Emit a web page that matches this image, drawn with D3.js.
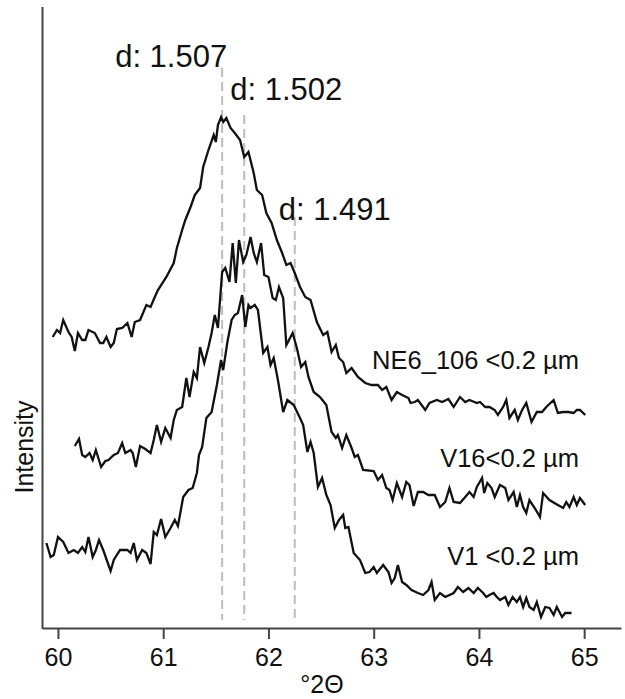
<!DOCTYPE html>
<html lang="en">

<head>
    <meta charset="UTF-8">
    <title>XRD 060 region</title>
    <script src="https://d3js.org/d3.v7.min.js"></script>
    <style>
        body { margin: 0; background: white; }
        text { font-family: "Liberation Sans", Arial, sans-serif; fill: #111; }
        .axis path, .axis line { stroke: #444; stroke-width: 2; }
    </style>
</head>

<body>
    <svg width="625" height="699"></svg>

    <script>
        // readings from the figure: [°2θ, intensity (arb. units, offset for stacking)]
        const ne6 = [
            [59.95, 291], [59.99, 298], [60.02, 295], [60.05, 308], [60.10, 296], [60.13, 291], [60.16, 277],
            [60.19, 295], [60.23, 288], [60.26, 288], [60.29, 298], [60.35, 295], [60.40, 285], [60.43, 285],
            [60.46, 291], [60.50, 281], [60.53, 285], [60.56, 299], [60.61, 300], [60.66, 305], [60.70, 291],
            [60.73, 306], [60.78, 308], [60.84, 323], [60.88, 321], [60.92, 331], [60.95, 338], [61.03, 351],
            [61.10, 365], [61.13, 380], [61.18, 398], [61.21, 408], [61.26, 421], [61.30, 433], [61.35, 440],
            [61.38, 461], [61.43, 478], [61.48, 493], [61.50, 486], [61.52, 503], [61.55, 511], [61.57, 506],
            [61.60, 510], [61.64, 500], [61.68, 495], [61.73, 488], [61.77, 471], [61.81, 476], [61.86, 455],
            [61.89, 438], [61.94, 433], [61.98, 415], [62.03, 405], [62.08, 388], [62.13, 375], [62.17, 363],
            [62.21, 365], [62.25, 355], [62.30, 341], [62.35, 331], [62.40, 328], [62.46, 306], [62.52, 293],
            [62.56, 296], [62.60, 276], [62.64, 283], [62.67, 270], [62.71, 266], [62.74, 255], [62.79, 260],
            [62.85, 251], [62.92, 245], [62.98, 243], [63.04, 243], [63.08, 238], [63.12, 241], [63.17, 228],
            [63.22, 236], [63.27, 233], [63.33, 230], [63.35, 225], [63.39, 226], [63.42, 228], [63.49, 218],
            [63.53, 225], [63.60, 228], [63.65, 226], [63.71, 229], [63.76, 221], [63.82, 231], [63.87, 226],
            [63.91, 228], [63.98, 225], [64.01, 226], [64.06, 221], [64.10, 221], [64.15, 218], [64.18, 213],
            [64.23, 221], [64.26, 228], [64.29, 210], [64.34, 218], [64.37, 208], [64.41, 218], [64.45, 225],
            [64.50, 206], [64.55, 216], [64.60, 216], [64.64, 221], [64.71, 228], [64.75, 215], [64.80, 216],
            [64.85, 216], [64.90, 215], [64.93, 218], [64.96, 218], [65.01, 213]
        ];

        const v16 = [
            [60.16, 182], [60.20, 189], [60.23, 173], [60.26, 171], [60.30, 175], [60.33, 168], [60.36, 178],
            [60.41, 161], [60.45, 167], [60.48, 168], [60.53, 173], [60.57, 175], [60.61, 185], [60.64, 175],
            [60.69, 178], [60.71, 175], [60.74, 161], [60.78, 182], [60.83, 179], [60.88, 175], [60.91, 188],
            [60.94, 203], [60.98, 186], [61.02, 200], [61.07, 190], [61.10, 208], [61.13, 218], [61.18, 221],
            [61.22, 250], [61.25, 231], [61.29, 256], [61.32, 250], [61.35, 281], [61.39, 265], [61.43, 281],
            [61.46, 295], [61.49, 313], [61.52, 300], [61.56, 356], [61.59, 360], [61.63, 346], [61.66, 385],
            [61.69, 345], [61.72, 388], [61.76, 366], [61.79, 373], [61.83, 391], [61.86, 375], [61.89, 366],
            [61.93, 385], [61.96, 353], [62.00, 351], [62.04, 330], [62.07, 328], [62.10, 341], [62.14, 330],
            [62.17, 283], [62.23, 295], [62.27, 280], [62.31, 261], [62.35, 266], [62.38, 251], [62.43, 236],
            [62.49, 231], [62.55, 223], [62.60, 196], [62.64, 190], [62.66, 193], [62.70, 180], [62.74, 193],
            [62.79, 180], [62.82, 171], [62.85, 173], [62.90, 158], [63.00, 157], [63.04, 148], [63.08, 153],
            [63.12, 140], [63.15, 138], [63.18, 128], [63.22, 145], [63.27, 131], [63.31, 146], [63.34, 143],
            [63.38, 122], [63.42, 136], [63.47, 136], [63.52, 133], [63.58, 133], [63.63, 121], [63.68, 126],
            [63.72, 140], [63.76, 126], [63.82, 125], [63.87, 131], [63.91, 136], [63.95, 131], [63.98, 141],
            [64.03, 150], [64.05, 135], [64.08, 145], [64.12, 140], [64.15, 131], [64.20, 143], [64.25, 140],
            [64.28, 128], [64.33, 136], [64.36, 121], [64.39, 133], [64.42, 121], [64.45, 115], [64.48, 128],
            [64.53, 120], [64.58, 111], [64.61, 135], [64.67, 128], [64.75, 123], [64.80, 120], [64.83, 126],
            [64.86, 121], [64.90, 131], [64.93, 123], [64.96, 130], [65.01, 123]
        ];

        const v1 = [
            [59.89, 85], [59.93, 71], [59.96, 73], [60.00, 91], [60.05, 86], [60.10, 75], [60.15, 78],
            [60.19, 75], [60.23, 81], [60.26, 76], [60.29, 91], [60.33, 71], [60.36, 78], [60.39, 88],
            [60.43, 78], [60.50, 57], [60.53, 68], [60.59, 78], [60.66, 78], [60.69, 75], [60.72, 85],
            [60.75, 68], [60.80, 78], [60.84, 75], [60.88, 64], [60.91, 96], [60.94, 93], [60.98, 109],
            [61.02, 91], [61.07, 100], [61.11, 108], [61.14, 102], [61.19, 131], [61.24, 138], [61.28, 140],
            [61.32, 155], [61.34, 173], [61.37, 181], [61.41, 210], [61.46, 216], [61.51, 243], [61.55, 268],
            [61.57, 258], [61.61, 286], [61.65, 308], [61.68, 313], [61.71, 315], [61.75, 333], [61.78, 301],
            [61.81, 323], [61.83, 320], [61.87, 323], [61.90, 318], [61.95, 275], [61.99, 281], [62.02, 263],
            [62.05, 270], [62.09, 248], [62.14, 216], [62.18, 228], [62.24, 223], [62.30, 210], [62.33, 203],
            [62.37, 176], [62.40, 186], [62.43, 175], [62.47, 141], [62.51, 150], [62.55, 133], [62.59, 123],
            [62.63, 100], [62.67, 108], [62.71, 113], [62.73, 100], [62.76, 101], [62.81, 75], [62.87, 68],
            [62.92, 55], [62.96, 56], [63.00, 61], [63.03, 55], [63.09, 63], [63.14, 56], [63.17, 45],
            [63.20, 50], [63.23, 63], [63.27, 46], [63.31, 43], [63.36, 38], [63.42, 35], [63.47, 33],
            [63.52, 38], [63.55, 46], [63.58, 28], [63.63, 35], [63.68, 31], [63.76, 35], [63.80, 41],
            [63.85, 36], [63.90, 40], [63.95, 35], [63.99, 40], [64.04, 35], [64.07, 31], [64.10, 33],
            [64.14, 35], [64.17, 31], [64.20, 28], [64.25, 31], [64.28, 23], [64.32, 31], [64.36, 26],
            [64.39, 31], [64.42, 21], [64.45, 30], [64.48, 21], [64.52, 18], [64.55, 26], [64.59, 11],
            [64.63, 21], [64.67, 20], [64.71, 13], [64.74, 21], [64.79, 11], [64.82, 15], [64.88, 15]
        ];

        const seriesNames = ["NE6_106 <0.2 \u00b5m", "V16<0.2 \u00b5m", "V1 <0.2 \u00b5m"];
        const seriesLabelY = [259, 161, 63]; // intensity level of each label baseline

        const peakPos = [61.56, 61.77, 62.25];
        const peakTop = [560, 513, 411];
        const peakLabels = ["d: 1.507", "d: 1.502", "d: 1.491"];

        const xTicks = [60, 61, 62, 63, 64, 65];

        const width = 625;
        const height = 699;
        const margin = { top: 7, right: 4, bottom: 71, left: 42.5 };

        const svg = d3.select("svg");

        const x = d3.scaleLinear()
            .domain([59.853, 65.35])
            .range([margin.left, width - margin.right]);

        const y = d3.scaleLinear()
            .domain([0, 621])
            .range([height - margin.bottom, margin.top]);

        // dashed reference lines at the peak positions
        svg.selectAll(".peak")
            .data(peakPos)
            .enter().append("line")
            .attr("class", "peak")
            .attr("x1", d => x(d)).attr("x2", d => x(d))
            .attr("y1", (d, i) => y(peakTop[i]))
            .attr("y2", y(8))
            .attr("stroke", "#bdbdbd")
            .attr("stroke-width", 2)
            .attr("stroke-dasharray", "9,5");

        // label offsets (px) relative to the top of each dashed line
        const peakLabelOffset = [[-107, -1], [-14, -15], [-16, 3]];
        svg.selectAll(".peak-label")
            .data(peakLabels)
            .enter().append("text")
            .attr("class", "peak-label")
            .attr("x", (d, i) => x(peakPos[i]) + peakLabelOffset[i][0])
            .attr("y", (d, i) => y(peakTop[i]) + peakLabelOffset[i][1])
            .style("font-size", "31px")
            .text(d => d);

        const line = d3.line()
            .x(d => x(d[0]))
            .y(d => y(d[1]));

        svg.selectAll(".trace")
            .data([ne6, v16, v1])
            .enter().append("path")
            .attr("class", "trace")
            .attr("d", line)
            .attr("fill", "none")
            .attr("stroke", "#111")
            .attr("stroke-width", 2.3)
            .attr("stroke-linejoin", "miter");

        svg.selectAll(".series-label")
            .data(seriesNames)
            .enter().append("text")
            .attr("class", "series-label")
            .attr("x", x(64.95))
            .attr("y", (d, i) => y(seriesLabelY[i]))
            .attr("text-anchor", "end")
            .style("font-size", "25.5px")
            .text(d => d);

        // axes
        const xAxis = d3.axisBottom(x)
            .tickValues(xTicks)
            .tickFormat(d3.format("d"))
            .tickSize(11)
            .tickSizeOuter(0)
            .tickPadding(9);

        svg.append("g")
            .attr("class", "axis")
            .attr("transform", `translate(0, ${height - margin.bottom})`)
            .call(xAxis)
            .selectAll("text")
            .style("font-size", "25px")
            .style("font-family", "Liberation Sans, Arial, sans-serif")
            .attr("fill", "#111");

        svg.append("line")
            .attr("class", "y-axis")
            .attr("x1", margin.left).attr("x2", margin.left)
            .attr("y1", margin.top).attr("y2", height - margin.bottom + 1)
            .attr("stroke", "#444")
            .attr("stroke-width", 2);

        svg.append("text")
            .attr("x", 322)
            .attr("y", 693)
            .attr("text-anchor", "middle")
            .style("font-size", "25px")
            .text("\u00b02\u0398");

        svg.append("text")
            .attr("transform", "translate(33, 447) rotate(-90)")
            .attr("text-anchor", "middle")
            .style("font-size", "25px")
            .text("Intensity");
    </script>
</body>

</html>
